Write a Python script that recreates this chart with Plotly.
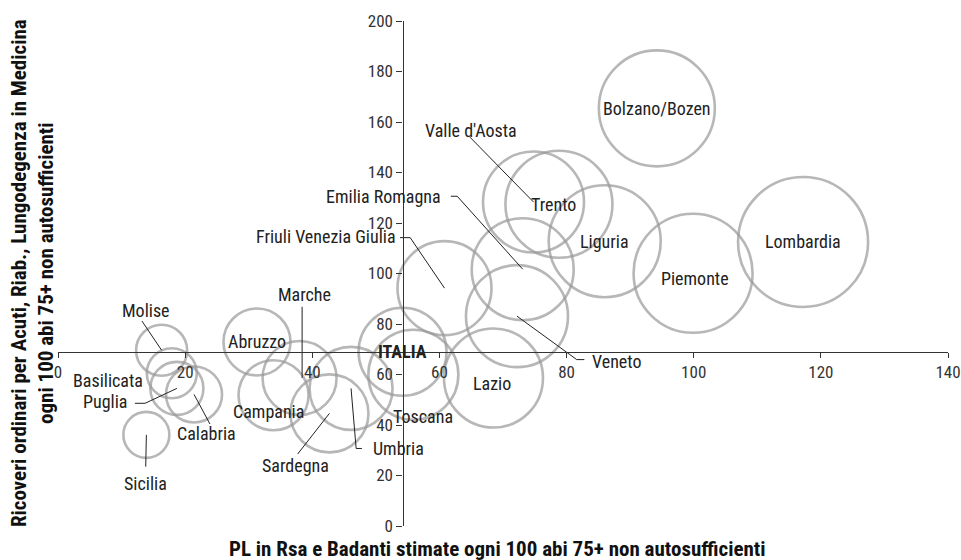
import plotly.graph_objects as go

# ---------------- data ----------------
regions = ["ITALIA", "Bolzano/Bozen", "Lombardia", "Piemonte", "Liguria", "Valle d'Aosta",
           "Trento", "Emilia Romagna", "Veneto", "Friuli Venezia Giulia", "Lazio", "Toscana",
           "Molise", "Basilicata", "Puglia", "Calabria", "Sicilia", "Abruzzo", "Marche",
           "Campania", "Sardegna", "Umbria"]
pl_rsa_badanti = [54.2, 94.2, 117.2, 99.9, 86.0, 74.8,
                  78.8, 73.1, 72.2, 60.8, 68.5, 55.9,
                  16.3, 17.9, 18.7, 21.4, 13.9, 31.3, 38.0,
                  33.9, 42.7, 46.1]
ricoveri = [69.0, 165.4, 112.5, 100.1, 112.8, 128.3,
            127.4, 101.7, 83.1, 94.2, 58.6, 59.9,
            69.6, 60.5, 54.5, 52.1, 36.1, 72.9, 58.6,
            51.8, 44.6, 54.5]
bubble_value = [88, 116, 130, 119, 112, 101,
                107, 102, 102, 94, 99, 90,
                51, 50, 53, 56, 46, 67, 74,
                70, 78, 83]

x_ticks = [0, 20, 40, 60, 80, 100, 120, 140]
y_ticks = [0, 20, 40, 60, 80, 100, 120, 140, 160, 180, 200]
X_RANGE = [0, 140]
Y_RANGE = [0, 200]

x_title = "PL in Rsa e Badanti stimate ogni 100 abi 75+ non autosufficienti"
y_title_lines = ["Ricoveri ordinari per Acuti, Riab., Lungodegenza in Medicina",
                 "ogni 100 abi 75+ non autosufficienti"]

# ---------------- label layout (positions of text / leader elbows) ----------------
# name: (label x, label y, xanchor, leader via points [None -> bubble centre coordinate])
label_layout = {
    "ITALIA": (None, None, "center", []),
    "Bolzano/Bozen": (None, None, "center", []),
    "Lombardia": (None, None, "center", []),
    "Piemonte": (100.2, 98.1, "center", []),
    "Liguria": (None, None, "center", []),
    "Trento": (78.0, None, "center", []),
    "Lazio": (68.3, 56.5, "center", []),
    "Abruzzo": (None, None, "center", []),
    "Campania": (33.1, 45.2, "center", []),
    "Toscana": (57.4, 43.5, "center", []),
    "Basilicata": (7.9, 57.8, "center", []),
    "Valle d'Aosta": (65.0, 156.7, "center", [(64.8, 154.0)]),
    "Emilia Romagna": (60.6, 130.6, "right", [(61.8, 130.6), (62.8, 130.6)]),
    "Friuli Venezia Giulia": (53.5, 114.7, "right", [(53.8, 114.2), (55.4, 114.2)]),
    "Veneto": (83.7, 65.1, "left", [(82.8, 65.9), (81.6, 65.9)]),
    "Umbria": (49.2, 30.7, "left", [(47.8, 30.7), (46.9, 30.7)]),
    "Puglia": (11.1, 49.2, "right", [(12.1, 48.6), (13.7, 48.6)]),
    "Calabria": (23.3, 36.8, "center", [(23.9, 40.4)]),
    "Sardegna": (37.3, 24.1, "center", [(37.7, 28.5)]),
    "Marche": (38.7, 91.8, "center", [(38.4, 86.8), (38.4, None)]),
    "Molise": (13.8, 85.2, "center", [(13.2, 81.2)]),
    "Sicilia": (13.8, 16.9, "center", [(13.8, 23.5)]),
}

FONT = "Liberation Sans Narrow, Arial Narrow, Roboto Condensed, Arial, sans-serif"
AXIS_COLOR = "#333333"
BUBBLE_LINE = "#999999"

fig = go.Figure()

# leader lines
lx, ly = [], []
for name, xv, yv in zip(regions, pl_rsa_badanti, ricoveri):
    _, _, _, via = label_layout[name]
    if not via:
        continue
    pts = [(px if px is not None else xv, py if py is not None else yv) for px, py in via]
    if via[-1][1] is not None:
        pts.append((xv, yv))
    for px, py in pts:
        lx.append(px)
        ly.append(py)
    lx.append(None)
    ly.append(None)

fig.add_trace(go.Scatter(
    x=pl_rsa_badanti, y=ricoveri, mode="markers",
    marker=dict(size=bubble_value, sizemode="diameter", sizeref=1,
                color="rgba(0,0,0,0)", line=dict(color=BUBBLE_LINE, width=2.6)),
    hoverinfo="skip", showlegend=False, cliponaxis=False,
))
fig.add_trace(go.Scatter(
    x=lx, y=ly, mode="lines", line=dict(color="#222222", width=1),
    hoverinfo="skip", showlegend=False, cliponaxis=False,
))

annotations = []
for name, xv, yv in zip(regions, pl_rsa_badanti, ricoveri):
    tx, ty, anchor, _ = label_layout[name]
    tx = xv if tx is None else tx
    ty = yv if ty is None else ty
    text = "<b>%s</b>" % name if name == "ITALIA" else name
    annotations.append(dict(
        x=tx, y=ty, xref="x", yref="y", text=text, showarrow=False,
        xanchor=anchor, yanchor="middle",
        font=dict(family=FONT, size=18, color="#222222"),
    ))

annotations.append(dict(
    x=0.494, y=-0.0465, xref="paper", yref="paper", text="<b>%s</b>" % x_title,
    showarrow=False, xanchor="center", yanchor="middle",
    font=dict(family=FONT, size=21, color="#111111"),
))
annotations.append(dict(
    x=-0.028, y=0.501, xref="paper", yref="paper",
    text="<br>".join("<b>%s</b>" % t for t in y_title_lines),
    showarrow=False, xanchor="center", yanchor="middle", textangle=-90,
    font=dict(family=FONT, size=21, color="#111111"),
))

italia_x = pl_rsa_badanti[regions.index("ITALIA")]
italia_y = ricoveri[regions.index("ITALIA")]

fig.update_layout(
    width=961, height=560,
    margin=dict(l=58, r=13, t=21, b=34, autoexpand=False),
    paper_bgcolor="white", plot_bgcolor="white",
    font=dict(family=FONT, size=16, color=AXIS_COLOR),
    xaxis=dict(
        range=X_RANGE, tickvals=x_ticks, ticktext=[str(v) for v in x_ticks],
        showgrid=False, zeroline=False, showline=True, linecolor=AXIS_COLOR, linewidth=1.3,
        ticks="outside", ticklen=5, tickcolor=AXIS_COLOR, tickwidth=1, automargin=False,
        anchor="free", position=(italia_y - Y_RANGE[0]) / (Y_RANGE[1] - Y_RANGE[0]),
        tickfont=dict(family=FONT, size=17, color=AXIS_COLOR),
    ),
    yaxis=dict(
        range=Y_RANGE, tickvals=y_ticks, ticktext=[str(v) for v in y_ticks],
        showgrid=False, zeroline=False, showline=True, linecolor=AXIS_COLOR, linewidth=1.3,
        ticks="outside", ticklen=6, tickcolor=AXIS_COLOR, tickwidth=1, automargin=False,
        anchor="free", position=(italia_x - X_RANGE[0]) / (X_RANGE[1] - X_RANGE[0]),
        tickfont=dict(family=FONT, size=17, color=AXIS_COLOR),
    ),
    annotations=annotations,
    hovermode=False,
)

# remove the default page margin so the 961x560 figure fills the window exactly
fig.write_html("out.html",
               config={"displayModeBar": False},
               post_script="document.body.style.margin='0';document.body.style.overflow='hidden';")
